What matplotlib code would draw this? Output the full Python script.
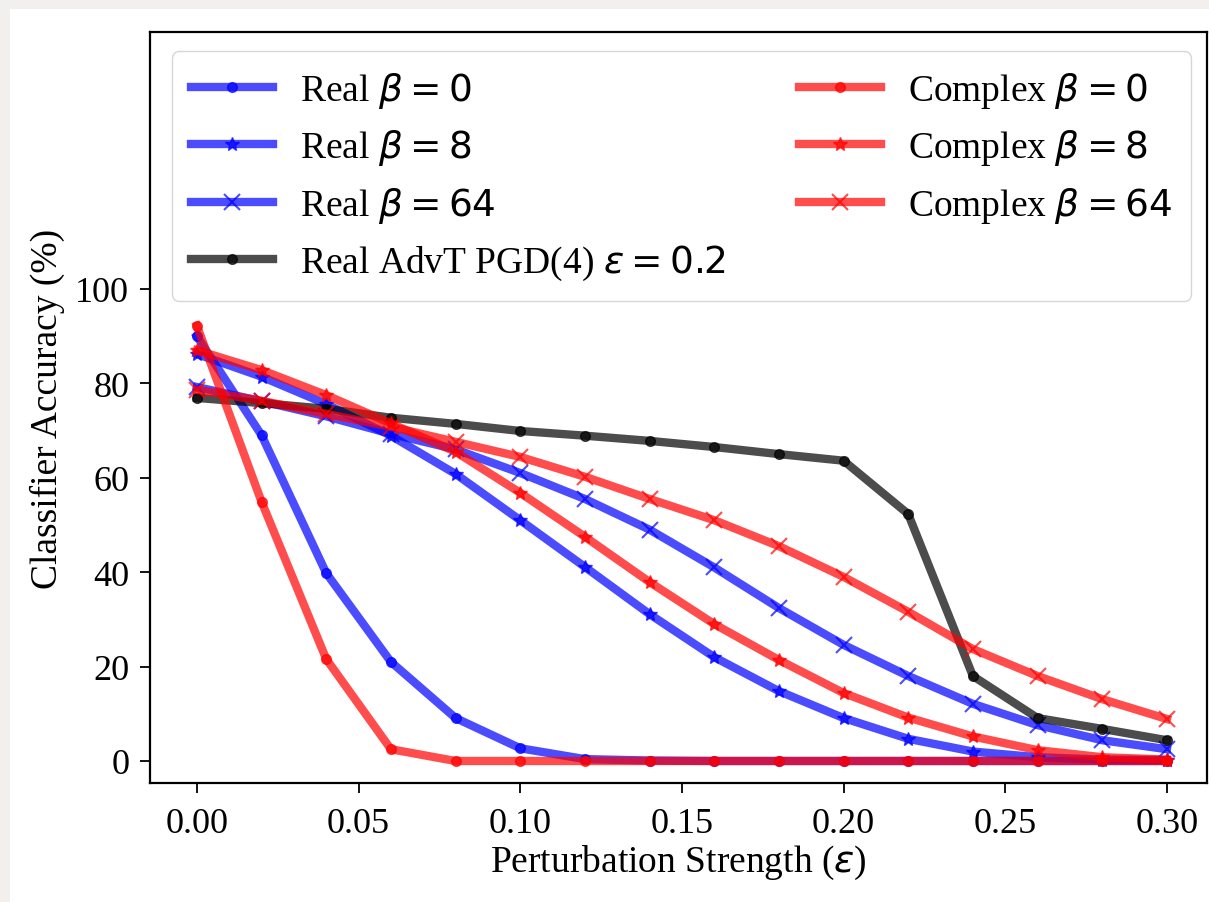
import numpy as np
import matplotlib
matplotlib.use("Agg")
import matplotlib.pyplot as plt
from matplotlib.patches import Rectangle

plt.rcParams["font.family"] = "serif"
plt.rcParams["font.serif"] = ["Liberation Serif", "DejaVu Serif"]
plt.rcParams["mathtext.fontset"] = "dejavusans"

# Perturbation strengths
eps = [0.00, 0.02, 0.04, 0.06, 0.08, 0.10, 0.12, 0.14,
       0.16, 0.18, 0.20, 0.22, 0.24, 0.26, 0.28, 0.30]

# Classifier accuracy (%)
real_b0 = [90.0, 69.0, 39.8, 21.0, 9.1, 2.7, 0.4, 0.1,
           0.0, 0.0, 0.0, 0.0, 0.0, 0.0, 0.0, 0.0]
real_b8 = [86.2, 81.4, 75.6, 68.9, 60.8, 51.0, 41.1, 31.1,
           22.0, 14.8, 9.1, 4.7, 2.0, 0.8, 0.3, 0.2]
real_b64 = [79.2, 76.2, 73.0, 69.3, 66.0, 61.0, 55.5, 49.0,
            41.0, 32.4, 24.6, 18.0, 12.1, 7.6, 4.4, 2.5]
real_advt = [76.9, 75.8, 74.6, 72.7, 71.4, 69.9, 68.9, 67.8,
             66.5, 65.0, 63.6, 52.3, 18.0, 9.1, 6.8, 4.4]
cplx_b0 = [92.2, 54.9, 21.6, 2.5, 0.0, 0.0, 0.0, 0.0,
           0.0, 0.0, 0.0, 0.0, 0.0, 0.0, 0.0, 0.0]
cplx_b8 = [87.0, 82.8, 77.5, 71.5, 65.5, 56.8, 47.5, 37.9,
           29.0, 21.4, 14.4, 9.2, 5.2, 2.3, 0.8, 0.3]
cplx_b64 = [78.6, 76.3, 73.5, 70.8, 67.6, 64.4, 60.2, 55.5,
            51.0, 45.5, 39.0, 31.6, 23.7, 18.0, 13.1, 8.9]

fig = plt.figure(figsize=(12.09, 9.03), dpi=100, facecolor="#f1f0ee")
# white page area inside the grey border
fig.add_artist(Rectangle((10 / 1209, 0), 1, (903 - 10) / 903,
                         transform=fig.transFigure, facecolor="white",
                         edgecolor="none", zorder=-10))
ax = fig.add_axes([150 / 1209, 1 - 784 / 903, 1057 / 1209, 751 / 903])

lw = 6
a = 0.7
ax.plot(eps, real_b0, color="blue", marker="o", ms=7, lw=lw, alpha=a, label=r"Real $\beta=0$")
ax.plot(eps, real_b8, color="blue", marker="*", ms=10, lw=lw, alpha=a, label=r"Real $\beta=8$")
ax.plot(eps, real_b64, color="blue", marker="x", ms=11, mew=1.5, lw=lw, alpha=a, label=r"Real $\beta=64$")
ax.plot(eps, real_advt, color="black", marker="o", ms=7, lw=lw, alpha=a,
        label=r"Real AdvT PGD(4) $\epsilon=0.2$")
ax.plot(eps, cplx_b0, color="red", marker="o", ms=7, lw=lw, alpha=a, label=r"Complex $\beta=0$")
ax.plot(eps, cplx_b8, color="red", marker="*", ms=10, lw=lw, alpha=a, label=r"Complex $\beta=8$")
ax.plot(eps, cplx_b64, color="red", marker="x", ms=11, mew=1.5, lw=lw, alpha=a, label=r"Complex $\beta=64$")

ax.set_xlim(-0.0145, 0.3124)
ax.set_ylim(-4.66, 154.4)
ax.set_yticks([0, 20, 40, 60, 80, 100])
ax.set_xticks([0.00, 0.05, 0.10, 0.15, 0.20, 0.25, 0.30])
ax.set_xticklabels(["0.00", "0.05", "0.10", "0.15", "0.20", "0.25", "0.30"])
ax.tick_params(labelsize=26, length=7, width=1.3, pad=8)
ax.tick_params(axis="x", pad=10)
for s in ax.spines.values():
    s.set_linewidth(1.6)

ax.set_xlabel(r"Perturbation Strength ($\epsilon$)", fontsize=27, labelpad=2)
ax.set_ylabel("Classifier Accuracy (%)", fontsize=27, labelpad=7)

ax.legend(ncol=2, loc="upper left", bbox_to_anchor=(0.0208, 0.9747),
          borderaxespad=0, fontsize=27, handlelength=2.2,
          handletextpad=0.72, columnspacing=1.95, labelspacing=0.47,
          borderpad=0.5)

fig.savefig("out.png", dpi=100, facecolor=fig.get_facecolor())
